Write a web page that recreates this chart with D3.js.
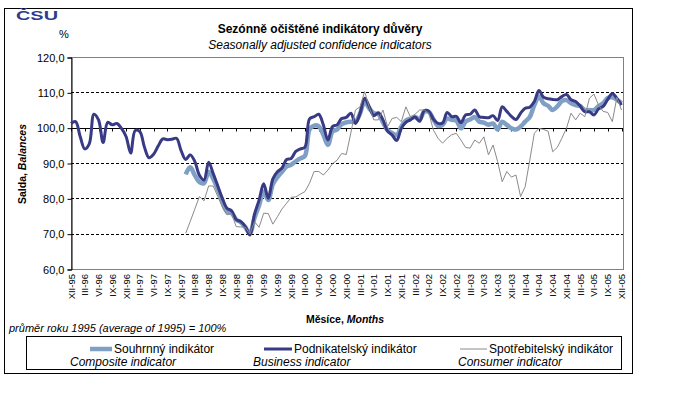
<!DOCTYPE html>
<html>
<head>
<meta charset="utf-8">
<script src="https://cdnjs.cloudflare.com/ajax/libs/d3/7.8.5/d3.min.js"></script>
<style>
  body { margin: 0; background: #fff; }
  text { font-family: Arial, "Liberation Sans", sans-serif; }
</style>
</head>
<body>
<div id="chart"></div>
<script>
// month labels XII-95 .. XII-05
var ROMAN = ["I","II","III","IV","V","VI","VII","VIII","IX","X","XI","XII"];
var months = [];
for (var k = 0; k <= 120; k++) {
    var m = (11 + k) % 12, yr = 1995 + Math.floor((11 + k) / 12);
    months.push(ROMAN[m] + "-" + String(yr % 100).padStart(2, "0"));
}

var yTicks = [60, 70, 80, 90, 100, 110, 120];

// Podnikatelsky indikator (business), XII-95 .. XII-05
var business = [
    101.2, 101.7, 97.5, 94.0, 95.5, 103.8, 102.2, 95.8, 101.5, 100.8,
    101.2, 99.8, 97.5, 92.8, 99.2, 98.9, 94.5, 91.5, 92.5, 94.8,
    96.8, 96.6, 96.7, 97.0, 93.5, 91.0, 92.3, 90.4, 86.5, 85.2,
    90.2, 87.0, 83.5, 80.0, 77.2, 76.5, 74.0, 73.4, 72.0, 69.6,
    75.5, 79.5, 84.1, 80.0, 85.5, 87.5, 88.6, 91.0, 91.3, 93.3,
    94.0, 94.5, 102.5, 103.1, 103.8, 100.8, 96.5, 100.3, 100.8, 102.6,
    102.9, 104.1, 101.2, 104.0, 108.3, 106.0, 103.4, 104.2, 102.2, 99.0,
    97.9, 96.4, 99.8, 101.5, 102.2, 103.0, 101.8, 104.8, 104.6, 102.4,
    101.2, 101.3, 104.3, 103.1, 103.2, 101.4, 103.6, 103.8, 105.0, 103.1,
    102.9, 102.8, 103.4, 102.0, 105.9, 104.6, 103.2, 102.3, 104.1, 105.5,
    105.8, 107.4, 110.5, 108.6, 108.2, 108.0, 107.9, 108.8, 109.4, 107.9,
    107.4, 106.1, 104.5, 104.5, 103.6, 105.3, 106.0, 108.0, 109.7, 108.3,
    106.4
];

// Souhrnny indikator (composite), starts I-98
var composite = [
    null, null, null, null, null, null, null, null, null, null,
    null, null, null, null, null, null, null, null, null, null,
    null, null, null, null, null, 86.8, 88.8, 86.5, 84.6, 84.3,
    87.5, 85.5, 82.5, 79.0, 76.2, 75.8, 74.0, 73.2, 71.8, 70.1,
    74.5, 78.0, 81.9, 79.5, 84.0, 86.0, 87.5, 89.0, 89.5, 90.5,
    91.3, 92.0, 99.5, 100.6, 100.4, 98.0, 95.1, 98.9, 99.5, 101.0,
    101.5, 101.7, 101.7, 104.0, 107.4, 105.5, 104.1, 103.8, 101.5, 99.3,
    98.5, 97.9, 100.3, 102.0, 102.6, 103.0, 102.4, 104.5, 104.5, 102.4,
    100.5, 100.8, 102.6, 102.2, 102.0, 99.8, 101.7, 102.3, 103.0, 101.7,
    101.4, 100.8, 101.2, 99.5, 101.7, 100.8, 99.8, 99.5, 100.3, 101.7,
    103.0, 106.4, 108.8, 106.9, 106.2, 105.0, 106.0, 107.5, 107.8, 106.9,
    106.4, 106.1, 105.0, 105.0, 105.0, 106.1, 106.9, 108.4, 108.6, 107.9,
    106.9
];

// Spotrebitelsky indikator (consumer), starts I-98
var consumer = [
    null, null, null, null, null, null, null, null, null, null,
    null, null, null, null, null, null, null, null, null, null,
    null, null, null, null, null, 70.1, 73.5, 77.0, 80.5, 79.3,
    83.5, 83.5, 80.5, 77.5, 75.3, 75.8, 72.0, 71.9, 71.8, 69.9,
    73.4, 71.8, 75.8, 75.7, 72.7, 74.8, 77.0, 78.6, 80.3, 80.4,
    81.2, 81.9, 84.3, 87.6, 87.6, 86.6, 88.0, 89.8, 90.8, 92.7,
    92.4, 98.5, 105.0, 105.9, 110.2, 105.9, 102.2, 102.2, 105.0, 100.3,
    102.6, 102.9, 101.7, 105.9, 103.0, 103.8, 105.0, 105.0, 104.1, 99.3,
    97.0, 95.6, 97.0, 98.0, 98.4, 96.5, 94.4, 94.2, 96.5, 95.6,
    97.4, 92.3, 95.1, 90.4, 84.7, 87.6, 86.0, 86.6, 80.5, 83.3,
    90.8, 98.4, 99.8, 99.5, 99.0, 93.2, 94.4, 97.0, 99.8, 104.1,
    102.2, 104.1, 103.1, 108.3, 109.5, 106.4, 104.6, 104.3, 101.7, 108.6,
    105.0
];

var W = 675, H = 397;
var plot = { left: 71, right: 623, top: 57, bottom: 269 };

var svg = d3.select("#chart").append("svg")
    .attr("width", W)
    .attr("height", H);

svg.append("rect").attr("width", W).attr("height", H).attr("fill", "#fff");

// outer frame
svg.append("rect")
    .attr("x", 4.5).attr("y", 8.5)
    .attr("width", 628).attr("height", 365)
    .attr("fill", "none").attr("stroke", "#000");

var x = d3.scalePoint().domain(months).range([plot.left, 621.5]);
var y = d3.scaleLinear().domain([60, 120]).range([plot.bottom, plot.top]);

// plot area border
svg.append("rect")
    .attr("x", plot.left + 0.5).attr("y", plot.top + 0.5)
    .attr("width", plot.right - plot.left).attr("height", plot.bottom - plot.top)
    .attr("fill", "none").attr("stroke", "#808080");

// dashed grid
svg.selectAll(".grid").data(yTicks.filter(function(d){ return d > 60 && d < 120 && d != 100; }))
    .enter().append("line")
    .attr("class", "grid")
    .attr("x1", plot.left).attr("x2", plot.right)
    .attr("y1", function(d){ return Math.round(y(d)) + 0.5; })
    .attr("y2", function(d){ return Math.round(y(d)) + 0.5; })
    .attr("stroke", "#000")
    .attr("stroke-dasharray", "3,2");

// category axis crosses at 100
var y100 = Math.round(y(100)) + 0.5;
svg.append("line")
    .attr("x1", plot.left).attr("x2", plot.right)
    .attr("y1", y100).attr("y2", y100)
    .attr("stroke", "#000");
svg.selectAll(".xtick").data(months.filter(function(d, i){ return i % 3 == 0; }))
    .enter().append("line")
    .attr("class", "xtick")
    .attr("x1", function(d){ return Math.round(x(d)) + 0.5; })
    .attr("x2", function(d){ return Math.round(x(d)) + 0.5; })
    .attr("y1", y100).attr("y2", y100 + 3)
    .attr("stroke", "#000");

// y axis
var yAxis = d3.axisLeft(y)
    .tickValues(yTicks)
    .tickSize(4)
    .tickPadding(3)
    .tickFormat(function(d){ return d3.format(".1f")(d).replace(".", ","); });
var yg = svg.append("g")
    .attr("transform", "translate(" + (plot.left + 0.5) + ",0.5)")
    .call(yAxis);
yg.select(".domain").attr("stroke", "#000");
yg.selectAll(".tick line").attr("stroke", "#000");
yg.selectAll(".tick text")
    .attr("font-size", 11)
    .attr("font-family", "Arial, 'Liberation Sans', sans-serif")
    .attr("fill", "#000");

// month labels at the bottom
svg.selectAll(".xlab").data(months.filter(function(d, i){ return i % 3 == 0; }))
    .enter().append("text")
    .attr("class", "xlab")
    .attr("transform", function(d){ return "translate(" + (x(d) + 3.5) + ",274) rotate(-90)"; })
    .attr("text-anchor", "end")
    .attr("font-size", 9.5)
    .text(function(d){ return d; });

// series
function lineFor(values, curve) {
    return d3.line()
        .defined(function(d){ return d != null; })
        .x(function(d, i){ return x(months[i]); })
        .y(function(d){ return y(d); })
        .curve(curve)(values);
}

svg.append("path")
    .attr("d", lineFor(composite, d3.curveCatmullRom.alpha(0.5)))
    .attr("fill", "none")
    .attr("stroke", "#7f9fc4")
    .attr("stroke-width", 4.5)
    .attr("stroke-linejoin", "round");

svg.append("path")
    .attr("d", lineFor(business, d3.curveCatmullRom.alpha(0.5)))
    .attr("fill", "none")
    .attr("stroke", "#383a86")
    .attr("stroke-width", 3)
    .attr("stroke-linejoin", "round");

svg.append("path")
    .attr("d", lineFor(consumer, d3.curveLinear))
    .attr("fill", "none")
    .attr("stroke", "#8a8a8a")
    .attr("stroke-width", 1);

// logo
svg.append("text")
    .attr("x", 16).attr("y", 20)
    .attr("font-size", 13)
    .attr("font-weight", "bold")
    .attr("font-family", "'DejaVu Sans', Arial, sans-serif")
    .attr("fill", "#2d3b8e")
    .attr("textLength", 42)
    .attr("lengthAdjust", "spacingAndGlyphs")
    .text("ČSU");

// titles
svg.append("text")
    .attr("x", 320).attr("y", 33)
    .attr("text-anchor", "middle")
    .attr("font-size", 12)
    .attr("font-weight", "bold")
    .text("Sezónně očištěné indikátory důvěry");
svg.append("text")
    .attr("x", 320).attr("y", 49)
    .attr("text-anchor", "middle")
    .attr("font-size", 12)
    .attr("font-style", "italic")
    .text("Seasonally adjusted confidence indicators");

svg.append("text")
    .attr("x", 64).attr("y", 38)
    .attr("text-anchor", "middle")
    .attr("font-size", 11)
    .text("%");

// y axis title
var yt = svg.append("text")
    .attr("transform", "translate(26,164) rotate(-90)")
    .attr("text-anchor", "middle")
    .attr("font-size", 10.5)
    .attr("font-weight", "bold");
yt.append("tspan").text("Salda, ");
yt.append("tspan").attr("font-style", "italic").text("Balances");

// x axis title
var xt = svg.append("text")
    .attr("x", 345).attr("y", 323)
    .attr("text-anchor", "middle")
    .attr("font-size", 10.5)
    .attr("font-weight", "bold");
xt.append("tspan").text("Měsíce, ");
xt.append("tspan").attr("font-style", "italic").text("Months");

svg.append("text")
    .attr("x", 9).attr("y", 332)
    .attr("font-size", 11)
    .attr("font-style", "italic")
    .text("průměr roku 1995 (average of 1995) = 100%");

// legend
svg.append("rect")
    .attr("x", 26.5).attr("y", 336.5)
    .attr("width", 595).attr("height", 33)
    .attr("fill", "none").attr("stroke", "#000");

var legendItems = [
    { name: "Souhrnný indikátor", en: "Composite indicator", color: "#7f9fc4", w: 4.5, x0: 90, x1: 112, enX: 70 },
    { name: "Podnikatelský indikátor", en: "Business indicator", color: "#383a86", w: 3, x0: 264, x1: 292, enX: 253 },
    { name: "Spotřebitelský indikátor", en: "Consumer indicator", color: "#8a8a8a", w: 1, x0: 460, x1: 487, enX: 458 }
];
var lg = svg.selectAll(".leg").data(legendItems).enter().append("g").attr("class", "leg");
lg.append("line")
    .attr("x1", function(d){ return d.x0; })
    .attr("x2", function(d){ return d.x1; })
    .attr("y1", 349).attr("y2", 349)
    .attr("stroke", function(d){ return d.color; })
    .attr("stroke-width", function(d){ return d.w; });
lg.append("text")
    .attr("x", function(d){ return d.x1 + 2; })
    .attr("y", 353)
    .attr("font-size", 12)
    .text(function(d){ return d.name; });
lg.append("text")
    .attr("x", function(d){ return d.enX; })
    .attr("y", 366)
    .attr("font-size", 12)
    .attr("font-style", "italic")
    .text(function(d){ return d.en; });
</script>
</body>
</html>
